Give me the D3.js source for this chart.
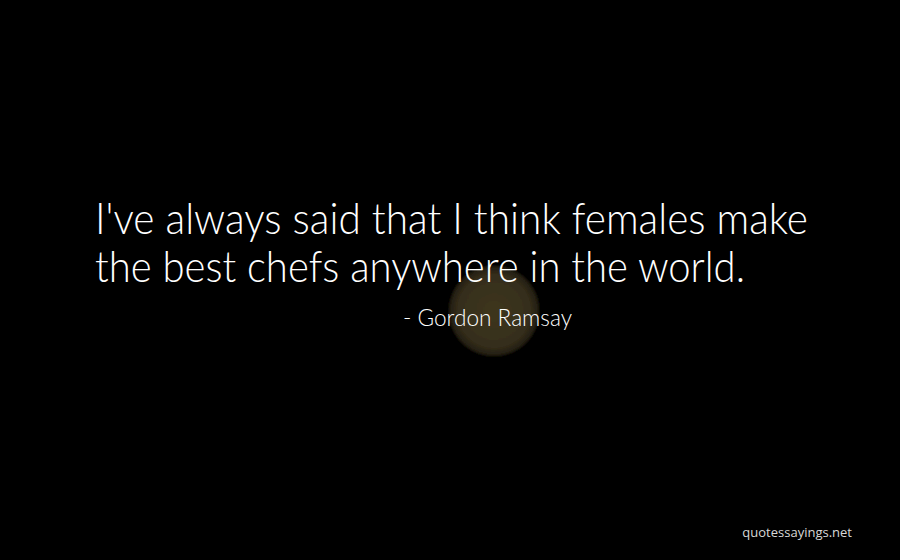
<!DOCTYPE html>
<html>
<head>
<meta charset="utf-8">
<script src="https://cdn.jsdelivr.net/npm/d3@7"></script>
<style>
  html, body { margin: 0; padding: 0; background: #000; }
  svg { display: block; }
</style>
</head>
<body>
<svg width="900" height="560"></svg>
<script>
const quoteLines = [
  "I've always said that I think females make",
  "the best chefs anywhere in the world."
];
const lineWidths = [713, 650];
const author = ["- Gordon Ramsay"];
const site = ["quotessayings.net"];

const svg = d3.select('svg');
const width = +svg.attr('width');
const height = +svg.attr('height');

svg.append('rect')
    .attr('width', width)
    .attr('height', height)
    .attr('fill', '#000');

// dim moon behind the text
const defs = svg.append('defs');
const grad = defs.append('radialGradient')
    .attr('id', 'moon');
grad.append('stop').attr('offset', '0%').attr('stop-color', '#3e3620');
grad.append('stop').attr('offset', '75%').attr('stop-color', '#352e1b');
grad.append('stop').attr('offset', '92%').attr('stop-color', '#221d10');
grad.append('stop').attr('offset', '100%').attr('stop-color', '#000').attr('stop-opacity', 0);

defs.append('filter').attr('id', 'soft')
  .append('feGaussianBlur').attr('stdDeviation', 1.2);

svg.append('circle')
    .attr('cx', 494)
    .attr('cy', 311)
    .attr('r', 48)
    .attr('fill', 'url(#moon)')
    .attr('filter', 'url(#soft)');

const quoteG = svg.append('g')
    .attr('transform', 'translate(95, 234)');

quoteG.selectAll('text')
  .data(quoteLines)
  .join('text')
    .attr('x', 0)
    .attr('y', (d, i) => i * 48)
    .attr('textLength', (d, i) => lineWidths[i])
    .attr('lengthAdjust', 'spacingAndGlyphs')
    .attr('font-family', 'Lato, "Open Sans", sans-serif')
    .attr('font-weight', 300)
    .attr('font-size', 44)
    .attr('fill', '#fff')
    .text(d => d);

svg.selectAll('text.author')
  .data(author)
  .join('text')
    .attr('class', 'author')
    .attr('x', 403)
    .attr('y', 326)
    .attr('textLength', 169)
    .attr('lengthAdjust', 'spacingAndGlyphs')
    .attr('font-family', 'Lato, "Open Sans", sans-serif')
    .attr('font-weight', 300)
    .attr('font-size', 24)
    .attr('fill', '#fff')
    .text(d => d);

svg.selectAll('text.site')
  .data(site)
  .join('text')
    .attr('class', 'site')
    .attr('x', 852)
    .attr('y', 537)
    .attr('text-anchor', 'end')
    .attr('font-family', '"Open Sans", sans-serif')
    .attr('font-size', 13)
    .attr('fill', '#d8d8d8')
    .text(d => d);
</script>
</body>
</html>
